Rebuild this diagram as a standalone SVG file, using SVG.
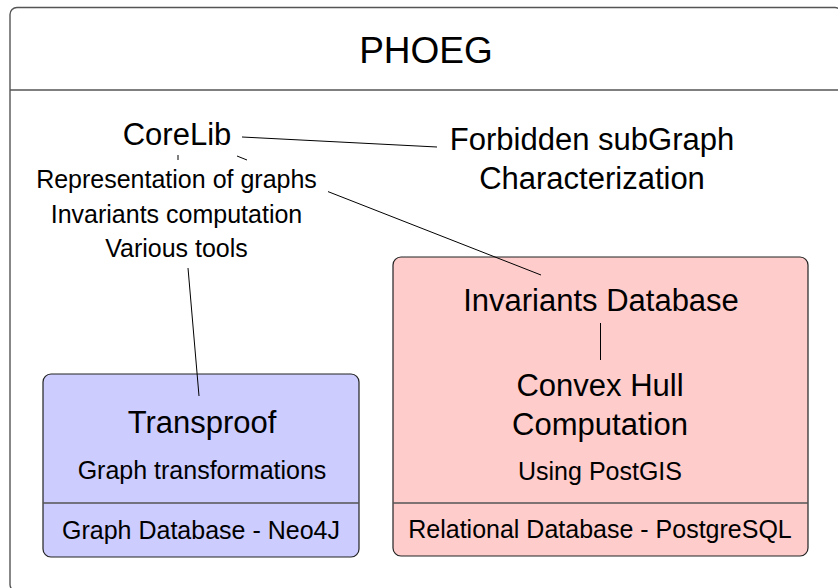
<svg xmlns="http://www.w3.org/2000/svg" width="838" height="588" viewBox="0 0 838 588">
  <style>
    text { font-family: "Liberation Sans", Arial, sans-serif; fill: #000; text-anchor: middle; }
    .big { font-size: 31px; }
    .mid { font-size: 25px; }
    .title { font-size: 37px; }
    .frame { fill: #fff; stroke: #555; stroke-width: 1.4; }
    .sep { stroke: #555; stroke-width: 1.4; }
    .box { stroke: #222; stroke-width: 1.2; }
    .blue { fill: #ccccff; }
    .red { fill: #ffcccc; }
    .link { stroke: #000; stroke-width: 1; fill: none; }
  </style>

  <!-- outer PHOEG frame with its header -->
  <g id="phoeg">
    <rect class="frame" x="10" y="7.5" width="832" height="584" rx="7"/>
    <line class="sep" x1="10" y1="90" x2="842" y2="90"/>
    <text class="title" x="426" y="63">PHOEG</text>
  </g>

  <g id="corelib">
    <text class="big" x="177" y="145">CoreLib</text>
  </g>

  <g id="corelib-features">
    <text class="mid" x="176.5" y="188">Representation of graphs</text>
    <text class="mid" x="176.5" y="223">Invariants computation</text>
    <text class="mid" x="176.5" y="257">Various tools</text>
  </g>

  <g id="forbidden">
    <text class="big" x="592" y="150">Forbidden subGraph</text>
    <text class="big" x="592" y="189">Characterization</text>
  </g>

  <g id="transproof">
    <rect class="box blue" x="43" y="374" width="316" height="183" rx="8"/>
    <line class="sep" x1="43" y1="503" x2="359" y2="503"/>
    <text class="big" x="202" y="433">Transproof</text>
    <text class="mid" x="202" y="479">Graph transformations</text>
    <text class="mid" x="201" y="539">Graph Database - Neo4J</text>
  </g>

  <g id="invariants">
    <rect class="box red" x="393" y="257" width="415" height="299" rx="8"/>
    <line class="sep" x1="393" y1="503" x2="808" y2="503"/>
    <text class="big" x="601" y="311">Invariants Database</text>
    <text class="big" x="600" y="396">Convex Hull</text>
    <text class="big" x="600" y="435">Computation</text>
    <text class="mid" x="600" y="480">Using PostGIS</text>
    <text class="mid" x="600" y="538">Relational Database - PostgreSQL</text>
  </g>

  <!-- connectors; the CoreLib to Invariants link is broken where it passes behind the feature list -->
  <g id="connectors">
    <line class="link" x1="242" y1="137" x2="437" y2="147"/>
    <line class="link" x1="237" y1="156" x2="247" y2="160"/>
    <line class="link" x1="328" y1="191.6" x2="541" y2="275"/>
    <line class="link" x1="178" y1="155" x2="178" y2="160"/>
    <line class="link" x1="188" y1="268" x2="199" y2="396"/>
    <line class="link" x1="600.5" y1="323" x2="600.5" y2="360"/>
  </g>
</svg>
